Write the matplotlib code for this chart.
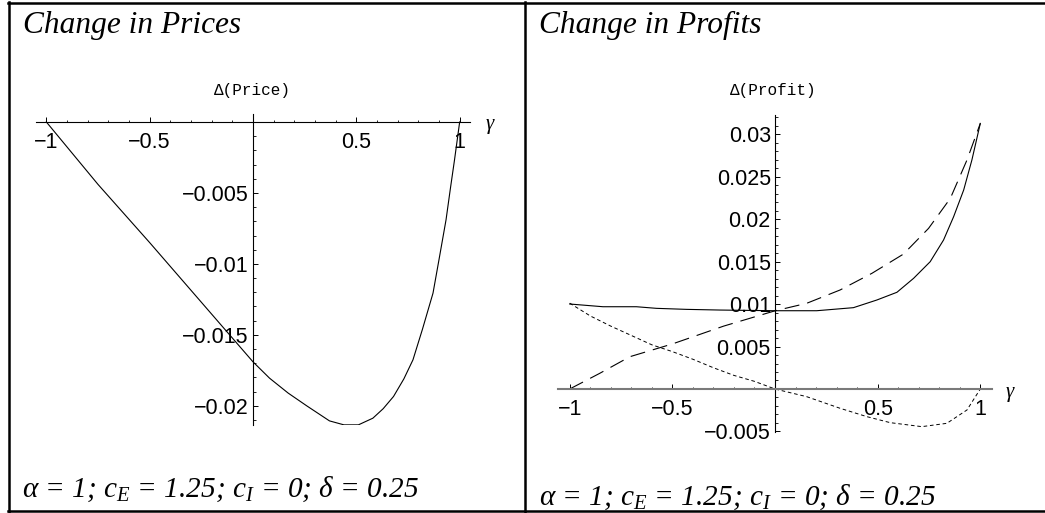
"""
Two Mathematica-style panels: change in prices and change in profits against gamma.
"""

import matplotlib
matplotlib.use("Agg")
import matplotlib.pyplot as plt
from matplotlib.lines import Line2D
from matplotlib.ticker import MultipleLocator, FixedLocator

# Data
gamma_price = [-1.0, -0.75, -0.5, -0.25, 0.0, 0.08, 0.17, 0.26, 0.37, 0.44, 0.51,
               0.58, 0.63, 0.68, 0.73, 0.774, 0.82, 0.871, 0.90, 0.934, 0.955, 0.975, 1.0]
d_price = [0.0, -0.0044, -0.0085, -0.0127, -0.0169, -0.01805, -0.0191, -0.0200, -0.02106,
           -0.02134, -0.02134, -0.02087, -0.0202, -0.01934, -0.0181, -0.01676, -0.0146,
           -0.01206, -0.0097, -0.0069, -0.0047, -0.00268, 0.0]

gamma_solid = [-1.0, -0.838, -0.675, -0.577, -0.431, -0.268, 0.0, 0.203, 0.382, 0.496,
               0.594, 0.675, 0.756, 0.821, 0.870, 0.919, 0.959, 1.0]
profit_solid = [0.0100, 0.00968, 0.00968, 0.00949, 0.00937, 0.00929, 0.00921, 0.00921,
                0.00957, 0.01047, 0.01138, 0.01302, 0.01498, 0.01753, 0.02027, 0.02341,
                0.02694, 0.03125]

gamma_dashed = [-1.0, -0.854, -0.707, -0.5, -0.25, 0.0, 0.154, 0.317, 0.472, 0.626,
                0.748, 0.854, 0.935, 1.0]
profit_dashed = [0.0, 0.00184, 0.0038, 0.0053, 0.0074, 0.0092, 0.01008, 0.01165, 0.01361,
                 0.01588, 0.0189, 0.02243, 0.02694, 0.03125]

gamma_dotted = [-1.0, -0.9, -0.8, -0.7, -0.6, -0.5, -0.4, -0.3, -0.2, -0.1, 0.0, 0.154,
                0.317, 0.447, 0.561, 0.715, 0.837, 0.935, 1.0]
profit_dotted = [0.0101, 0.0086, 0.0074, 0.0063, 0.0052, 0.0044, 0.0035, 0.0025, 0.0016,
                 0.0009, 0.0, -0.0009, -0.00227, -0.00325, -0.00396, -0.00443, -0.00404,
                 -0.00247, 0.0]

x_ticks = [-1, -0.5, 0.5, 1]
x_labels = ["\u22121", "\u22120.5", "0.5", "1"]
price_ticks = [-0.005, -0.01, -0.015, -0.02]
price_labels = ["\u22120.005", "\u22120.01", "\u22120.015", "\u22120.02"]
profit_ticks = [-0.005, 0.005, 0.01, 0.015, 0.02, 0.025, 0.03]
profit_labels = ["\u22120.005", "0.005", "0.01", "0.015", "0.02", "0.025", "0.03"]

titles = ["Change in Prices", "Change in Profits"]
params = r"$\alpha$ = 1; $c_E$ = 1.25; $c_I$ = 0; $\delta$ = 0.25"

W, H = 1045, 513

plt.rcParams["mathtext.fontset"] = "custom"
plt.rcParams["mathtext.it"] = "Liberation Serif:italic"
plt.rcParams["mathtext.rm"] = "Liberation Serif:italic"
plt.rcParams["lines.scale_dashes"] = False

fig = plt.figure(figsize=(W / 100, H / 100), dpi=100)


def box(x0, y0, x1, y1):
    # pixel box (from top left) to figure fraction
    return [x0 / W, 1 - y1 / H, (x1 - x0) / W, (y1 - y0) / H]


def ftext(x, y, s, **kw):
    fig.text(x / W, 1 - y / H, s, **kw)


def setup_axis(ax, xticks, xlabels, yticks, ylabels):
    for side in ["top", "right"]:
        ax.spines[side].set_visible(False)
    ax.spines["left"].set_position(("data", 0))
    ax.spines["bottom"].set_position(("data", 0))
    ax.patch.set_alpha(0)
    ax.xaxis.set_major_locator(FixedLocator(xticks))
    ax.set_xticklabels(xlabels)
    ax.xaxis.set_minor_locator(MultipleLocator(0.1))
    ax.yaxis.set_major_locator(FixedLocator(yticks))
    ax.set_yticklabels(ylabels)
    ax.yaxis.set_minor_locator(MultipleLocator(0.001))
    ax.tick_params(which="both", direction="in", labelsize=15.5, labelfontfamily="Liberation Sans")
    ax.tick_params(axis="x", which="major", length=3.5, width=0.7, pad=7)
    ax.tick_params(axis="x", which="minor", length=1.8, width=0.6)
    ax.tick_params(axis="y", which="major", length=3.5, width=0.7, pad=3)
    ax.tick_params(axis="y", which="minor", length=1.8, width=0.6)


# Left panel: change in prices
ax1 = fig.add_axes(box(36, 114, 470, 425))
ax1.plot(gamma_price, d_price, color="black", linewidth=0.8)
ax1.set_xlim(-1.05, 1.05)
ax1.set_ylim(-0.02135, 0.00056)
setup_axis(ax1, x_ticks, x_labels, price_ticks, price_labels)
for side in ["left", "bottom"]:
    ax1.spines[side].set_linewidth(0.8)

# Right panel: change in profits
ax2 = fig.add_axes(box(558, 115, 992, 432))
ax2.plot(gamma_solid, profit_solid, color="black", linewidth=0.8)
ax2.plot(gamma_dashed, profit_dashed, color="black", linewidth=0.8, dashes=(10.8, 5.8))
ax2.plot(gamma_dotted, profit_dotted, color="black", linewidth=0.7, dashes=(2.6, 2.0))
ax2.set_xlim(-1.057, 1.057)
ax2.set_ylim(-0.00506, 0.03224)
setup_axis(ax2, x_ticks, x_labels, profit_ticks, profit_labels)
ax2.spines["left"].set_linewidth(0.8)
ax2.spines["bottom"].set_linewidth(1.5)
ax2.spines["bottom"].set_color("#7a7a7a")

# Axis labels
ftext(252, 90, "\u0394(Price)", fontsize=11.5, family="Liberation Mono", ha="center", va="center")
ftext(773, 91, "\u0394(Profit)", fontsize=11.5, family="Liberation Mono", ha="center", va="center")
ftext(490, 124, "\u03b3", fontsize=15, family="Liberation Serif", style="italic", ha="center", va="center")
ftext(1010, 392, "\u03b3", fontsize=15, family="Liberation Serif", style="italic", ha="center", va="center")

# Titles and parameter lines
ftext(23, 33, titles[0], fontsize=22.6, family="Liberation Serif", style="italic", va="baseline")
ftext(539, 33, titles[1], fontsize=22.6, family="Liberation Serif", style="italic", va="baseline")
ftext(22, 497, params, fontsize=21.1, family="Liberation Serif", style="italic", va="baseline")
ftext(539, 505, params, fontsize=21.1, family="Liberation Serif", style="italic", va="baseline")

# Table borders
lw = 1.8
fig.add_artist(Line2D([8 / W, 1], [1 - 3 / H, 1 - 3 / H], color="black", linewidth=lw))
fig.add_artist(Line2D([8 / W, 1], [1 - 510.5 / H, 1 - 510.5 / H], color="black", linewidth=lw))
fig.add_artist(Line2D([8.5 / W, 8.5 / W], [1 - 2 / H, 1 - 511.5 / H], color="black", linewidth=lw))
fig.add_artist(Line2D([525 / W, 525 / W], [1 - 2 / H, 1 - 511.5 / H], color="black", linewidth=lw))

fig.savefig("out.png", dpi=100)
